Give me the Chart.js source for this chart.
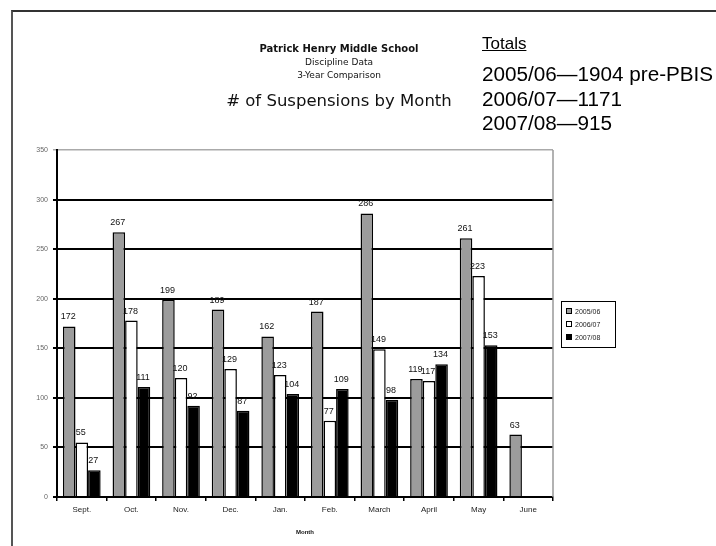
<!DOCTYPE html>
<html lang="en">
<head>
<meta charset="UTF-8">
<title>Patrick Henry Middle School - Suspensions by Month</title>
<script src="https://cdn.jsdelivr.net/npm/chart.js"></script>
<style>
    html, body { margin: 0; padding: 0; background: #fff; }
    #wrap { position: relative; width: 716px; height: 546px; overflow: hidden; }
    #frame { position: absolute; left: 11px; top: 10px; width: 720px; height: 560px;
             border-top: 2px solid #333; border-left: 2px solid #555; }
    canvas { position: absolute; left: 0; top: 0; }
    .ttl { position: absolute; width: 300px; left: 189px; text-align: center;
           font-family: "DejaVu Sans", sans-serif; color: #111; white-space: nowrap; }
    .tot { position: absolute; left: 482px; font-family: "Liberation Sans", Arial, sans-serif;
           color: #000; white-space: nowrap; }
    #legend { position: absolute; left: 561px; top: 301px; width: 53px; height: 45px;
              border: 1px solid #000; font-family: "Liberation Sans", Arial, sans-serif;
              font-size: 7px; color: #222; }
    #legend div { position: absolute; left: 4px; height: 8px; line-height: 8px; }
    #legend span { display: inline-block; width: 4px; height: 4px; border: 1px solid #000;
                   margin-right: 3px; vertical-align: 0px; }
</style>
</head>
<body>
<div id="wrap">
    <div id="frame"></div>
    <canvas id="grafico" width="716" height="546"></canvas>

    <!-- titulos -->
    <div class="ttl" style="top:43px;font-size:10px;font-weight:bold;">Patrick Henry Middle School</div>
    <div class="ttl" style="top:57px;font-size:9px;">Discipline Data</div>
    <div class="ttl" style="top:70px;font-size:9px;">3-Year Comparison</div>
    <div class="ttl" style="top:91px;font-size:16.5px;">&#35; of Suspensions by Month</div>

    <div class="tot" style="top:34px;font-size:17px;text-decoration:underline;">Totals</div>
    <div class="tot" style="top:62px;font-size:20.7px;">2005/06&mdash;1904 pre-PBIS</div>
    <div class="tot" style="top:87px;font-size:20.7px;">2006/07&mdash;1171</div>
    <div class="tot" style="top:111px;font-size:20.7px;">2007/08&mdash;915</div>

    <div id="legend"></div>
</div>

<script>
    // datos
    const meses = ['Sept.', 'Oct.', 'Nov.', 'Dec.', 'Jan.', 'Feb.', 'March', 'April', 'May', 'June'];
    const anio0506 = [172, 267, 199, 189, 162, 187, 286, 119, 261, 63];
    const anio0607 = [55, 178, 120, 129, 123, 77, 149, 117, 223, null];
    const anio0708 = [27, 111, 92, 87, 104, 109, 98, 134, 153, null];
    const series = ['2005/06', '2006/07', '2007/08'];
    const colores = ['#9c9c9c', '#ffffff', '#000000'];

    // leyenda en html
    const legend = document.getElementById('legend');
    series.forEach((s, i) => {
        legend.innerHTML += `<div style="top:${6 + i * 13}px"><span style="background:${colores[i]}"></span>${s}</div>`;
    });

    // etiquetas encima de cada barra + borde derecho gris
    const etiquetas = {
        id: 'etiquetas',
        afterDatasetsDraw(chart) {
            const c = chart.ctx;
            c.save();
            c.font = '9px "Liberation Sans", Arial, sans-serif';
            c.fillStyle = '#111';
            c.textAlign = 'center';
            c.textBaseline = 'bottom';
            chart.data.datasets.forEach((ds, i) => {
                chart.getDatasetMeta(i).data.forEach((bar, j) => {
                    if (ds.data[j] == null) return;
                    c.fillText(ds.data[j], bar.x - 1, bar.y - 5);
                });
            });
            const a = chart.chartArea;
            c.strokeStyle = '#999';
            c.lineWidth = 1.5;
            c.beginPath();
            c.moveTo(a.right, a.top);
            c.lineTo(a.right, a.bottom);
            c.stroke();
            c.restore();
        }
    };

    const ctx = document.getElementById('grafico').getContext('2d');
    const chart = new Chart(ctx, {
        type: 'bar',
        data: {
            labels: meses,
            datasets: [anio0506, anio0607, anio0708].map((d, i) => ({
                label: series[i],
                data: d,
                backgroundColor: colores[i],
                borderColor: '#000',
                borderWidth: 1.5,
                borderSkipped: 'bottom',
                categoryPercentage: 0.76,
                barPercentage: 1.0
            }))
        },
        options: {
            responsive: false,
            animation: false,
            layout: { padding: { left: 27, right: 163, top: 150, bottom: 6 } },
            plugins: { legend: { display: false }, tooltip: { enabled: false } },
            scales: {
                x: {
                    grid: { drawOnChartArea: false, color: '#000', tickLength: 4, lineWidth: 1.5 },
                    border: { color: '#000', width: 2 },
                    ticks: { color: '#222', font: { size: 8, family: '"Liberation Sans", Arial, sans-serif' }, padding: 4 },
                    title: { display: true, text: 'Month', color: '#111', padding: { top: 7 },
                             font: { size: 6, weight: 'bold', family: '"Liberation Sans", Arial, sans-serif' } },
                    afterFit: s => { s.height = 43; }
                },
                y: {
                    min: 0, max: 350,
                    ticks: { stepSize: 50, color: '#666', padding: 5, font: { size: 7, family: '"Liberation Sans", Arial, sans-serif' } },
                    grid: {
                        color: c => (c.tick && c.tick.value === 350) ? '#aaa' : '#000',
                        lineWidth: c => (c.tick && c.tick.value === 350) ? 1.5 : 2,
                        tickLength: 4
                    },
                    border: { color: '#000', width: 2 },
                    afterFit: s => { s.width = 30; }
                }
            }
        },
        plugins: [etiquetas]
    });
</script>
</body>
</html>
